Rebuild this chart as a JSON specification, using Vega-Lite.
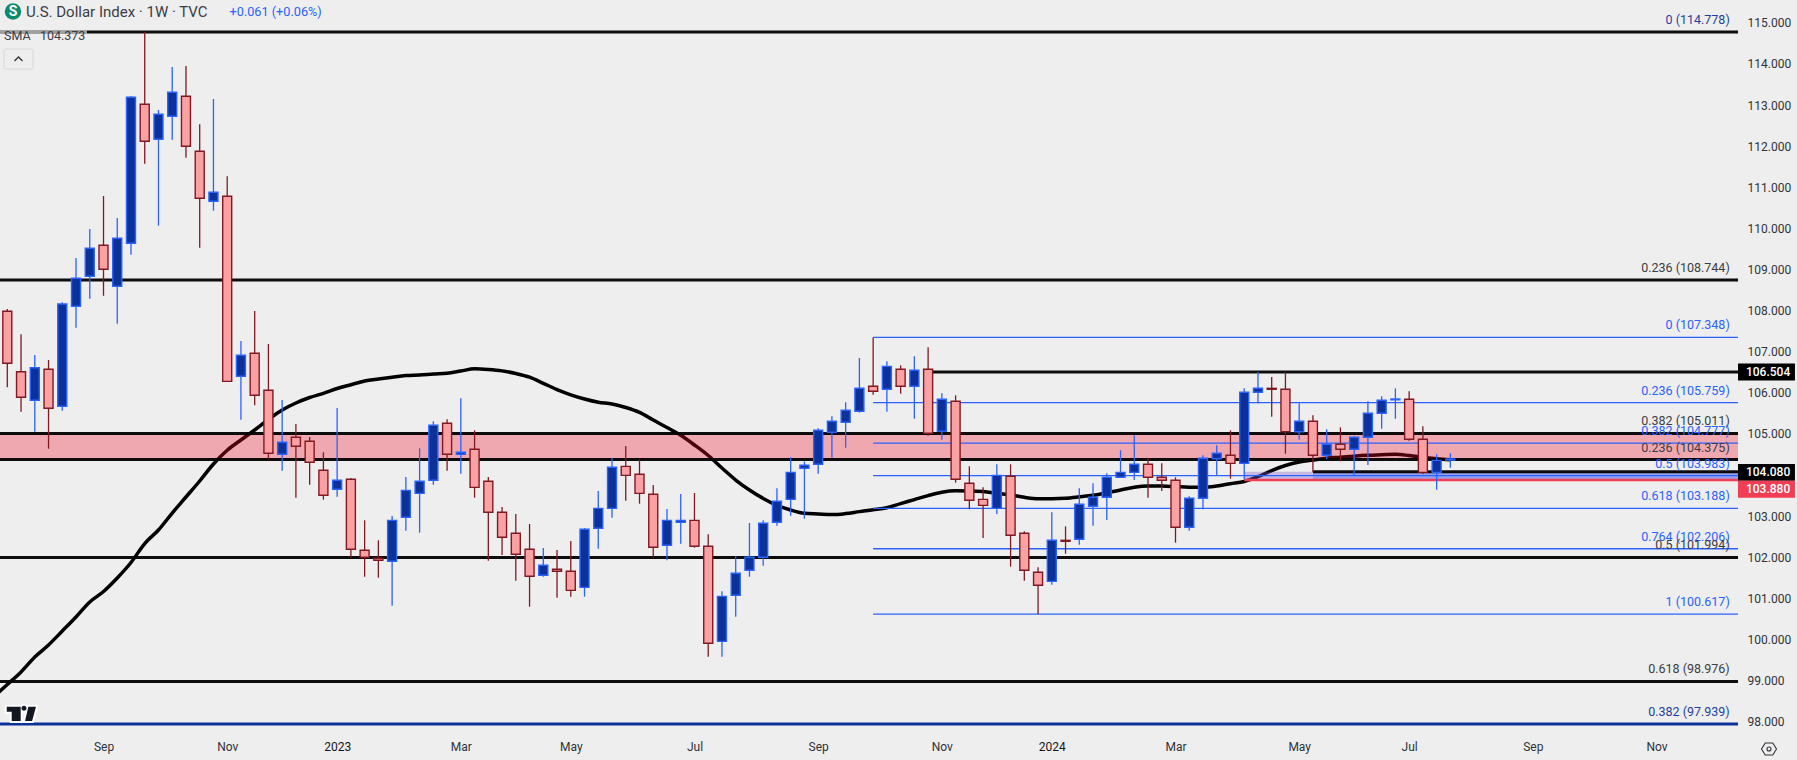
{"$schema":"https://vega.github.io/schema/vega-lite/v6.json","width":1738,"height":732,"autosize":{"type":"none"},"padding":{"left":0,"top":0,"right":59,"bottom":28},"background":"#eeeeee","view":{"stroke":null},"config":{"font":"Roboto"},
"datasets":{"candles":[
{"d":"2022-07-11","h":null,"o":null,"c":null,"l":null,"s":98.60,"dir":"u"},
{"d":"2022-07-18","h":108.039,"o":107.983,"c":106.718,"l":106.134,"s":98.902,"dir":"d"},
{"d":"2022-07-25","h":107.423,"o":106.513,"c":105.890,"l":105.540,"s":99.207,"dir":"d"},
{"d":"2022-08-01","h":106.919,"o":105.817,"c":106.611,"l":105.053,"s":99.572,"dir":"u"},
{"d":"2022-08-08","h":106.798,"o":106.572,"c":105.623,"l":104.640,"s":99.864,"dir":"d"},
{"d":"2022-08-15","h":108.202,"o":105.671,"c":108.160,"l":105.564,"s":100.204,"dir":"u"},
{"d":"2022-08-22","h":109.280,"o":108.104,"c":108.786,"l":107.584,"s":100.545,"dir":"u"},
{"d":"2022-08-29","h":109.985,"o":108.834,"c":109.516,"l":108.289,"s":100.910,"dir":"u"},
{"d":"2022-09-05","h":110.788,"o":109.589,"c":109.005,"l":108.362,"s":101.165,"dir":"d"},
{"d":"2022-09-12","h":110.253,"o":108.591,"c":109.759,"l":107.681,"s":101.494,"dir":"u"},
{"d":"2022-09-19","h":113.221,"o":109.637,"c":113.190,"l":109.360,"s":101.871,"dir":"u"},
{"d":"2022-09-26","h":114.778,"o":113.019,"c":112.119,"l":111.574,"s":102.333,"dir":"d"},
{"d":"2022-10-03","h":112.881,"o":112.168,"c":112.776,"l":110.066,"s":102.662,"dir":"u"},
{"d":"2022-10-10","h":113.927,"o":112.727,"c":113.311,"l":112.158,"s":103.075,"dir":"u"},
{"d":"2022-10-17","h":113.951,"o":113.214,"c":111.997,"l":111.720,"s":103.465,"dir":"d"},
{"d":"2022-10-24","h":112.533,"o":111.876,"c":110.732,"l":109.530,"s":103.854,"dir":"d"},
{"d":"2022-10-31","h":113.148,"o":110.659,"c":110.878,"l":110.431,"s":104.267,"dir":"u"},
{"d":"2022-11-07","h":111.267,"o":110.781,"c":106.279,"l":106.262,"s":104.601,"dir":"d"},
{"d":"2022-11-14","h":107.260,"o":106.401,"c":106.912,"l":105.345,"s":104.851,"dir":"u"},
{"d":"2022-11-21","h":107.990,"o":106.961,"c":105.939,"l":105.696,"s":105.095,"dir":"d"},
{"d":"2022-11-28","h":107.187,"o":106.061,"c":104.528,"l":104.382,"s":105.350,"dir":"d"},
{"d":"2022-12-05","h":105.825,"o":104.503,"c":104.795,"l":104.104,"s":105.581,"dir":"u"},
{"d":"2022-12-12","h":105.241,"o":104.917,"c":104.698,"l":103.448,"s":105.752,"dir":"d"},
{"d":"2022-12-19","h":104.924,"o":104.820,"c":104.309,"l":103.764,"s":105.885,"dir":"d"},
{"d":"2022-12-26","h":104.552,"o":104.114,"c":103.506,"l":103.399,"s":105.988,"dir":"d"},
{"d":"2023-01-02","h":105.630,"o":103.652,"c":103.871,"l":103.472,"s":106.104,"dir":"u"},
{"d":"2023-01-09","h":103.927,"o":103.895,"c":102.192,"l":101.988,"s":106.197,"dir":"d"},
{"d":"2023-01-16","h":102.897,"o":102.168,"c":101.997,"l":101.525,"s":106.287,"dir":"d"},
{"d":"2023-01-23","h":102.411,"o":101.973,"c":101.924,"l":101.501,"s":106.336,"dir":"d"},
{"d":"2023-01-30","h":103.002,"o":101.900,"c":102.897,"l":100.820,"s":106.379,"dir":"u"},
{"d":"2023-02-06","h":103.951,"o":102.971,"c":103.627,"l":102.645,"s":106.418,"dir":"u"},
{"d":"2023-02-13","h":104.649,"o":103.554,"c":103.847,"l":102.596,"s":106.433,"dir":"u"},
{"d":"2023-02-20","h":105.306,"o":103.871,"c":105.209,"l":103.764,"s":106.457,"dir":"u"},
{"d":"2023-02-27","h":105.355,"o":105.258,"c":104.503,"l":104.104,"s":106.477,"dir":"d"},
{"d":"2023-03-06","h":105.866,"o":104.503,"c":104.552,"l":104.031,"s":106.530,"dir":"u"},
{"d":"2023-03-13","h":105.087,"o":104.625,"c":103.700,"l":103.448,"s":106.584,"dir":"d"},
{"d":"2023-03-20","h":103.951,"o":103.847,"c":103.092,"l":101.914,"s":106.567,"dir":"d"},
{"d":"2023-03-27","h":103.221,"o":103.092,"c":102.484,"l":102.053,"s":106.533,"dir":"d"},
{"d":"2023-04-03","h":103.051,"o":102.581,"c":102.070,"l":101.428,"s":106.469,"dir":"d"},
{"d":"2023-04-10","h":102.808,"o":102.192,"c":101.535,"l":100.796,"s":106.379,"dir":"d"},
{"d":"2023-04-17","h":102.224,"o":101.559,"c":101.803,"l":101.525,"s":106.231,"dir":"u"},
{"d":"2023-04-24","h":102.175,"o":101.705,"c":101.657,"l":101.014,"s":106.078,"dir":"d"},
{"d":"2023-05-01","h":102.394,"o":101.657,"c":101.194,"l":101.039,"s":105.951,"dir":"d"},
{"d":"2023-05-08","h":102.710,"o":101.267,"c":102.679,"l":101.039,"s":105.849,"dir":"u"},
{"d":"2023-05-15","h":103.610,"o":102.703,"c":103.189,"l":102.207,"s":105.771,"dir":"u"},
{"d":"2023-05-22","h":104.413,"o":103.189,"c":104.187,"l":102.961,"s":105.727,"dir":"u"},
{"d":"2023-05-29","h":104.705,"o":104.211,"c":103.992,"l":103.374,"s":105.642,"dir":"d"},
{"d":"2023-06-05","h":104.382,"o":104.017,"c":103.554,"l":103.302,"s":105.523,"dir":"d"},
{"d":"2023-06-12","h":103.756,"o":103.530,"c":102.241,"l":101.997,"s":105.338,"dir":"d"},
{"d":"2023-06-19","h":103.173,"o":102.289,"c":102.897,"l":101.924,"s":105.156,"dir":"u"},
{"d":"2023-06-26","h":103.537,"o":102.849,"c":102.897,"l":102.328,"s":104.966,"dir":"u"},
{"d":"2023-07-03","h":103.562,"o":102.897,"c":102.265,"l":102.231,"s":104.730,"dir":"d"},
{"d":"2023-07-10","h":102.557,"o":102.265,"c":99.905,"l":99.579,"s":104.474,"dir":"d"},
{"d":"2023-07-17","h":101.170,"o":99.953,"c":101.048,"l":99.579,"s":104.170,"dir":"u"},
{"d":"2023-07-24","h":102.022,"o":101.073,"c":101.608,"l":100.552,"s":103.878,"dir":"u"},
{"d":"2023-07-31","h":102.832,"o":101.681,"c":101.997,"l":101.525,"s":103.635,"dir":"u"},
{"d":"2023-08-07","h":102.897,"o":101.997,"c":102.825,"l":101.793,"s":103.430,"dir":"u"},
{"d":"2023-08-14","h":103.676,"o":102.849,"c":103.360,"l":102.766,"s":103.262,"dir":"u"},
{"d":"2023-08-21","h":104.430,"o":103.408,"c":104.065,"l":103.010,"s":103.148,"dir":"u"},
{"d":"2023-08-28","h":104.333,"o":104.163,"c":104.236,"l":102.936,"s":103.068,"dir":"u"},
{"d":"2023-09-04","h":105.136,"o":104.260,"c":105.087,"l":104.031,"s":103.051,"dir":"u"},
{"d":"2023-09-11","h":105.428,"o":105.039,"c":105.306,"l":104.421,"s":103.036,"dir":"u"},
{"d":"2023-09-18","h":105.769,"o":105.282,"c":105.574,"l":104.664,"s":103.061,"dir":"u"},
{"d":"2023-09-25","h":106.846,"o":105.550,"c":106.109,"l":105.516,"s":103.109,"dir":"u"},
{"d":"2023-10-02","h":107.348,"o":106.158,"c":106.036,"l":105.954,"s":103.153,"dir":"d"},
{"d":"2023-10-09","h":106.766,"o":106.085,"c":106.644,"l":105.540,"s":103.204,"dir":"u"},
{"d":"2023-10-16","h":106.669,"o":106.572,"c":106.158,"l":105.978,"s":103.304,"dir":"d"},
{"d":"2023-10-23","h":106.888,"o":106.158,"c":106.547,"l":105.370,"s":103.401,"dir":"u"},
{"d":"2023-10-30","h":107.107,"o":106.572,"c":105.014,"l":104.956,"s":103.499,"dir":"d"},
{"d":"2023-11-06","h":105.988,"o":105.063,"c":105.842,"l":104.859,"s":103.581,"dir":"u"},
{"d":"2023-11-13","h":105.939,"o":105.793,"c":103.895,"l":103.813,"s":103.615,"dir":"d"},
{"d":"2023-11-20","h":104.211,"o":103.798,"c":103.384,"l":103.165,"s":103.613,"dir":"d"},
{"d":"2023-11-27","h":103.700,"o":103.408,"c":103.262,"l":102.467,"s":103.596,"dir":"d"},
{"d":"2023-12-04","h":104.260,"o":103.189,"c":103.992,"l":103.051,"s":103.555,"dir":"u"},
{"d":"2023-12-11","h":104.260,"o":103.968,"c":102.533,"l":101.769,"s":103.513,"dir":"d"},
{"d":"2023-12-18","h":102.630,"o":102.581,"c":101.681,"l":101.428,"s":103.457,"dir":"d"},
{"d":"2023-12-25","h":101.754,"o":101.632,"c":101.316,"l":100.617,"s":103.423,"dir":"d"},
{"d":"2024-01-01","h":103.092,"o":101.413,"c":102.411,"l":101.331,"s":103.423,"dir":"u"},
{"d":"2024-01-08","h":102.752,"o":102.411,"c":102.387,"l":102.085,"s":103.435,"dir":"d"},
{"d":"2024-01-15","h":103.676,"o":102.435,"c":103.287,"l":102.304,"s":103.469,"dir":"u"},
{"d":"2024-01-22","h":103.798,"o":103.238,"c":103.457,"l":102.766,"s":103.508,"dir":"u"},
{"d":"2024-01-29","h":104.041,"o":103.457,"c":103.944,"l":102.905,"s":103.567,"dir":"u"},
{"d":"2024-02-05","h":104.601,"o":103.944,"c":104.065,"l":103.939,"s":103.635,"dir":"u"},
{"d":"2024-02-12","h":104.966,"o":104.065,"c":104.260,"l":103.878,"s":103.703,"dir":"u"},
{"d":"2024-02-19","h":104.406,"o":104.260,"c":103.944,"l":103.448,"s":103.732,"dir":"d"},
{"d":"2024-02-26","h":104.284,"o":103.944,"c":103.871,"l":103.610,"s":103.730,"dir":"d"},
{"d":"2024-03-04","h":103.944,"o":103.871,"c":102.727,"l":102.353,"s":103.717,"dir":"d"},
{"d":"2024-03-11","h":103.482,"o":102.727,"c":103.433,"l":102.645,"s":103.703,"dir":"u"},
{"d":"2024-03-18","h":104.479,"o":103.433,"c":104.406,"l":103.165,"s":103.701,"dir":"u"},
{"d":"2024-03-25","h":104.722,"o":104.396,"c":104.528,"l":104.000,"s":103.732,"dir":"u"},
{"d":"2024-04-01","h":105.087,"o":104.479,"c":104.284,"l":103.910,"s":103.788,"dir":"d"},
{"d":"2024-04-08","h":106.109,"o":104.284,"c":106.012,"l":103.895,"s":103.842,"dir":"u"},
{"d":"2024-04-15","h":106.506,"o":106.012,"c":106.109,"l":105.744,"s":103.958,"dir":"u"},
{"d":"2024-04-22","h":106.384,"o":106.109,"c":106.085,"l":105.418,"s":104.109,"dir":"d"},
{"d":"2024-04-29","h":106.506,"o":106.085,"c":105.053,"l":104.518,"s":104.231,"dir":"d"},
{"d":"2024-05-06","h":105.744,"o":105.053,"c":105.306,"l":104.859,"s":104.316,"dir":"u"},
{"d":"2024-05-13","h":105.452,"o":105.306,"c":104.479,"l":104.073,"s":104.365,"dir":"d"},
{"d":"2024-05-20","h":105.112,"o":104.479,"c":104.747,"l":104.382,"s":104.408,"dir":"u"},
{"d":"2024-05-27","h":105.160,"o":104.747,"c":104.625,"l":104.333,"s":104.433,"dir":"d"},
{"d":"2024-06-03","h":104.941,"o":104.625,"c":104.917,"l":104.000,"s":104.459,"dir":"u"},
{"d":"2024-06-10","h":105.793,"o":104.917,"c":105.501,"l":104.243,"s":104.479,"dir":"u"},
{"d":"2024-06-17","h":105.915,"o":105.501,"c":105.817,"l":105.126,"s":104.491,"dir":"u"},
{"d":"2024-06-24","h":106.109,"o":105.830,"c":105.849,"l":105.370,"s":104.503,"dir":"u"},
{"d":"2024-07-01","h":106.036,"o":105.842,"c":104.868,"l":104.834,"s":104.474,"dir":"d"},
{"d":"2024-07-08","h":105.185,"o":104.868,"c":104.065,"l":104.024,"s":104.433,"dir":"d"},
{"d":"2024-07-15","h":104.503,"o":104.065,"c":104.357,"l":103.642,"s":104.396,"dir":"u"},
{"d":"2024-07-22","h":104.528,"o":104.365,"c":104.389,"l":104.178,"s":104.373,"dir":"u"}
],
"blackLevels":[{"d":"2022-07-14T06:46:00Z","d2":"2024-12-15T12:00:00Z","p":114.778},{"d":"2022-07-14T06:46:00Z","d2":"2024-12-15T12:00:00Z","p":108.744},{"d":"2022-07-14T06:46:00Z","d2":"2024-12-15T12:00:00Z","p":105.011},{"d":"2022-07-14T06:46:00Z","d2":"2024-12-15T12:00:00Z","p":104.375},{"d":"2022-07-14T06:46:00Z","d2":"2024-12-15T12:00:00Z","p":101.994},{"d":"2022-07-14T06:46:00Z","d2":"2024-12-15T12:00:00Z","p":98.976},{"d":"2023-10-30","d2":"2024-12-15T12:00:00Z","p":106.504},{"d":"2024-05-13","d2":"2024-12-15T12:00:00Z","p":104.08}],
"fibLevels":[{"d":"2023-10-02","d2":"2024-12-15T12:00:00Z","p":107.348},{"d":"2023-10-02","d2":"2024-12-15T12:00:00Z","p":105.759},{"d":"2023-10-02","d2":"2024-12-15T12:00:00Z","p":104.777},{"d":"2023-10-02","d2":"2024-12-15T12:00:00Z","p":103.983},{"d":"2023-10-02","d2":"2024-12-15T12:00:00Z","p":103.188},{"d":"2023-10-02","d2":"2024-12-15T12:00:00Z","p":102.206},{"d":"2023-10-02","d2":"2024-12-15T12:00:00Z","p":100.617}],
"fibLabels":[
{"d":"2024-12-11T07:00:00Z","p":114.778,"t":"0 (114.778)","g":"n"},
{"d":"2024-12-11T07:00:00Z","p":108.744,"t":"0.236 (108.744)","g":"k"},
{"d":"2024-12-11T07:00:00Z","p":107.348,"t":"0 (107.348)","g":"b"},
{"d":"2024-12-11T07:00:00Z","p":105.759,"t":"0.236 (105.759)","g":"b"},
{"d":"2024-12-11T07:00:00Z","p":105.011,"t":"0.382 (105.011)","g":"k"},
{"d":"2024-12-11T07:00:00Z","p":104.777,"t":"0.382 (104.777)","g":"b"},
{"d":"2024-12-11T07:00:00Z","p":104.375,"t":"0.236 (104.375)","g":"k"},
{"d":"2024-12-11T07:00:00Z","p":103.983,"t":"0.5 (103.983)","g":"b"},
{"d":"2024-12-11T07:00:00Z","p":103.188,"t":"0.618 (103.188)","g":"b"},
{"d":"2024-12-11T07:00:00Z","p":102.206,"t":"0.764 (102.206)","g":"b"},
{"d":"2024-12-11T07:00:00Z","p":101.994,"t":"0.5 (101.994)","g":"k"},
{"d":"2024-12-11T07:00:00Z","p":100.617,"t":"1 (100.617)","g":"b"},
{"d":"2024-12-11T07:00:00Z","p":98.976,"t":"0.618 (98.976)","g":"k"},
{"d":"2024-12-11T07:00:00Z","p":97.939,"t":"0.382 (97.939)","g":"n"}],
"tags":[
{"d":"2024-12-15T12:00:00Z","d2":"2025-01-13T12:00:00Z","p":106.713,"p2":106.299,"g":"k"},
{"d":"2024-12-15T12:00:00Z","d2":"2025-01-13T12:00:00Z","p":104.267,"p2":103.861,"g":"k"},
{"d":"2024-12-15T12:00:00Z","d2":"2025-01-13T12:00:00Z","p":103.861,"p2":103.448,"g":"r"}],
"tagText":[{"d":"2024-12-30T20:00:00Z","p":106.504,"t":"106.504"},{"d":"2024-12-30T20:00:00Z","p":104.066,"t":"104.080"},{"d":"2024-12-30T20:00:00Z","p":103.659,"t":"103.880"}]
},
"encoding":{
"x":{"field":"d","type":"temporal","title":null,"scale":{"type":"utc","padding":0,"domain":["2022-07-14T06:46:00Z","2024-12-15T12:00:00Z"]},
"axis":{"orient":"bottom","domain":false,"ticks":false,"grid":false,"labelFont":"Roboto","labelFontSize":12,"labelPadding":9,"labelColor":{"condition":{"test":"utcFormat(datum.value,'%m')==='01'","value":"#131722"},"value":"#2f323a"},"labelOverlap":false,"values":["2022-09-05T00:00:00Z","2022-11-07T00:00:00Z","2023-01-02T00:00:00Z","2023-03-06T00:00:00Z","2023-05-01T00:00:00Z","2023-07-03T00:00:00Z","2023-09-04T00:00:00Z","2023-11-06T00:00:00Z","2024-01-01T00:00:00Z","2024-03-04T00:00:00Z","2024-05-06T00:00:00Z","2024-07-01T00:00:00Z","2024-09-02T00:00:00Z","2024-11-04T00:00:00Z"],"labelExpr":"utcFormat(datum.value,'%m')==='01'?utcFormat(datum.value,'%Y'):utcFormat(datum.value,'%b')"}},
"y":{"field":"p","type":"quantitative","title":null,"scale":{"domain":[97.747,115.557],"nice":false,"zero":false},
"axis":{"orient":"right","domain":false,"ticks":false,"grid":false,"format":".3f","labelFont":"Roboto","labelFontSize":12,"labelColor":"#2f323a","labelPadding":9,"labelOverlap":false,"values":[98,99,100,101,102,103,104,105,106,107,108,109,110,111,112,113,114,115]}}
},
"layer":[
{"data":{"name":"candles","format":{"parse":{"d":"date"}}},"mark":{"type":"line","color":"#000000","strokeWidth":3.5,"interpolate":"monotone"},"encoding":{"y":{"field":"s","type":"quantitative","scale":{"domain":[97.747,115.557],"nice":false,"zero":false}}}},
{"data":{"values":[{"d":"2022-07-14T06:46:00Z","d2":"2024-12-15T12:00:00Z","p":105.011,"p2":104.375}],"format":{"parse":{"d":"date","d2":"date"}}},"mark":{"type":"rect","color":"#f40820","opacity":0.3},"encoding":{"x2":{"field":"d2"},"y2":{"field":"p2"}}},
{"data":{"values":[{"d":"2024-04-08","d2":"2024-12-15T12:00:00Z","p":104.08,"p2":103.88}],"format":{"parse":{"d":"date","d2":"date"}}},"mark":{"type":"rect","color":"#7e57c2","opacity":0.35},"encoding":{"x2":{"field":"d2"},"y2":{"field":"p2"}}},
{"data":{"values":[{"d":"2024-05-13","d2":"2024-12-15T12:00:00Z","p":104.08,"p2":103.88}],"format":{"parse":{"d":"date","d2":"date"}}},"mark":{"type":"rect","color":"#2962ff","opacity":0.3},"encoding":{"x2":{"field":"d2"},"y2":{"field":"p2"}}},
{"data":{"name":"blackLevels","format":{"parse":{"d":"date","d2":"date"}}},"mark":{"type":"rule","color":"#000000","strokeWidth":3,"opacity":0.95},"encoding":{"x2":{"field":"d2"}}},
{"data":{"values":[{"d":"2022-07-14T06:46:00Z","d2":"2024-12-15T12:00:00Z","p":97.939}],"format":{"parse":{"d":"date","d2":"date"}}},"mark":{"type":"rule","color":"#0c3299","strokeWidth":3},"encoding":{"x2":{"field":"d2"}}},
{"data":{"values":[{"d":"2024-04-08","d2":"2024-12-15T12:00:00Z","p":103.88}],"format":{"parse":{"d":"date","d2":"date"}}},"mark":{"type":"rule","color":"#f23e55","strokeWidth":2.5},"encoding":{"x2":{"field":"d2"}}},
{"data":{"name":"fibLevels","format":{"parse":{"d":"date","d2":"date"}}},"mark":{"type":"rule","color":"#2962ff","strokeWidth":1.3},"encoding":{"x2":{"field":"d2"}}},
{"data":{"name":"candles","format":{"parse":{"d":"date"}}},"mark":{"type":"rule","strokeWidth":1.3},"encoding":{"y":{"field":"h","type":"quantitative","scale":{"domain":[97.747,115.557],"nice":false,"zero":false}},"y2":{"field":"l"},"color":{"condition":{"test":"datum.dir==='u'","value":"#2962ff"},"value":"#801922"}}},
{"data":{"name":"candles","format":{"parse":{"d":"date"}}},"mark":{"type":"bar","size":9,"strokeWidth":1.4},"encoding":{"y":{"field":"o","type":"quantitative","scale":{"domain":[97.747,115.557],"nice":false,"zero":false}},"y2":{"field":"c"},"fill":{"condition":{"test":"datum.dir==='u'","value":"#0c3299"},"value":"#faa1a4"},"stroke":{"condition":{"test":"datum.dir==='u'","value":"#2962ff"},"value":"#801922"}}},
{"data":{"name":"fibLabels","format":{"parse":{"d":"date"}}},"mark":{"type":"text","align":"right","baseline":"middle","dy":-12,"font":"Roboto","fontSize":12.5},"encoding":{"text":{"field":"t"},"color":{"condition":[{"test":"datum.g==='k'","value":"#3a3d45"},{"test":"datum.g==='n'","value":"#1f3f9e"}],"value":"#2962ff"}}},
{"data":{"name":"tags","format":{"parse":{"d":"date","d2":"date"}}},"mark":{"type":"rect"},"encoding":{"x2":{"field":"d2"},"y2":{"field":"p2"},"color":{"condition":{"test":"datum.g==='r'","value":"#f23e55"},"value":"#000000"}}},
{"data":{"name":"tagText","format":{"parse":{"d":"date"}}},"mark":{"type":"text","align":"center","baseline":"middle","font":"Roboto","fontSize":12,"fontWeight":500,"color":"#ffffff"},"encoding":{"text":{"field":"t"}}},
{"data":{"values":[{"d":"2022-07-14T06:46:00Z","d2":"2022-08-27T14:00:00Z","p":114.815,"p2":114.742}],"format":{"parse":{"d":"date","d2":"date"}}},"mark":{"type":"rect","color":"#eeeeee","opacity":0.65},"encoding":{"x2":{"field":"d2"},"y2":{"field":"p2"}}},
{"data":{"values":[{"d":"2022-07-20T21:43:00Z","p":115.277}],"format":{"parse":{"d":"date"}}},"mark":{"type":"point","shape":"circle","filled":true,"opacity":1,"size":270,"color":"#0b8a6f"}},
{"data":{"values":[{"d":"2022-07-20T21:43:00Z","p":115.277,"t":"S"}],"format":{"parse":{"d":"date"}}},"mark":{"type":"text","align":"center","baseline":"middle","font":"Roboto","fontSize":14,"fontWeight":"bold","color":"#ffffff"},"encoding":{"text":{"field":"t"}}},
{"data":{"values":[{"d":"2022-07-27T12:30:00Z","p":115.27,"t":"U.S. Dollar Index · 1W · TVC"}],"format":{"parse":{"d":"date"}}},"mark":{"type":"text","align":"left","baseline":"middle","font":"Roboto","fontSize":15,"color":"#3a3d45"},"encoding":{"text":{"field":"t"}}},
{"data":{"values":[{"d":"2022-11-08T04:48:00Z","p":115.27,"t":"+0.061 (+0.06%)"}],"format":{"parse":{"d":"date"}}},"mark":{"type":"text","align":"left","baseline":"middle","font":"Roboto","fontSize":12.7,"color":"#2962ff"},"encoding":{"text":{"field":"t"}}},
{"data":{"values":[{"d":"2022-07-16T07:40:00Z","p":114.68,"t":"SMA\u00a0\u00a0\u00a0104.373"}],"format":{"parse":{"d":"date"}}},"mark":{"type":"text","align":"left","baseline":"middle","font":"Roboto","fontSize":12.5,"color":"#3a3d45"},"encoding":{"text":{"field":"t"}}},
{"data":{"values":[{"d":"2022-07-16T07:40:00Z","d2":"2022-07-31T02:00:00Z","p":114.365,"p2":113.878}],"format":{"parse":{"d":"date","d2":"date"}}},"mark":{"type":"rect","fill":"#eeeeee","stroke":"#d6d6da","strokeWidth":1,"cornerRadius":2},"encoding":{"x2":{"field":"d2"},"y2":{"field":"p2"}}},
{"data":{"values":[{"d":"2022-07-23T17:00:00Z","p":114.121}],"format":{"parse":{"d":"date"}}},"mark":{"type":"point","shape":"M-1 0.5 L0 -0.5 L1 0.5","filled":false,"opacity":1,"size":64,"strokeWidth":1.3,"color":"#2f323a"}},
{"data":{"values":[{"d":"2022-07-24T18:00:00Z","p":98.197}],"format":{"parse":{"d":"date"}}},"mark":{"type":"point","shape":"M-0.92 -0.45 L0.01 -0.45 L0.01 0.5 L-0.59 0.5 L-0.59 -0.12 L-0.92 -0.12 Z M0.06 -0.35 A0.17 0.17 0 1 0 0.4 -0.35 A0.17 0.17 0 1 0 0.06 -0.35 Z M0.52 -0.45 L1.03 -0.45 L0.77 0.5 L0.3 0.5 Z","filled":true,"opacity":1,"size":900,"color":"#ffffff","stroke":"#ffffff","strokeWidth":4}},
{"data":{"values":[{"d":"2022-07-24T18:00:00Z","p":98.197}],"format":{"parse":{"d":"date"}}},"mark":{"type":"point","shape":"M-0.92 -0.45 L0.01 -0.45 L0.01 0.5 L-0.59 0.5 L-0.59 -0.12 L-0.92 -0.12 Z M0.06 -0.35 A0.17 0.17 0 1 0 0.4 -0.35 A0.17 0.17 0 1 0 0.06 -0.35 Z M0.52 -0.45 L1.03 -0.45 L0.77 0.5 L0.3 0.5 Z","filled":true,"opacity":1,"size":900,"color":"#131722","strokeWidth":0}},
{"data":{"values":[{"d":"2024-12-31T07:00:00Z","p":97.333}],"format":{"parse":{"d":"date"}}},"mark":{"type":"point","shape":"M-1 0 L-0.5 -0.8 L0.5 -0.8 L1 0 L0.5 0.8 L-0.5 0.8 Z","filled":false,"opacity":1,"size":225,"strokeWidth":1.1,"color":"#2f323a"}},
{"data":{"values":[{"d":"2024-12-31T07:00:00Z","p":97.333}],"format":{"parse":{"d":"date"}}},"mark":{"type":"point","shape":"circle","filled":false,"opacity":1,"size":16,"strokeWidth":1.1,"color":"#2f323a"}}
]}
